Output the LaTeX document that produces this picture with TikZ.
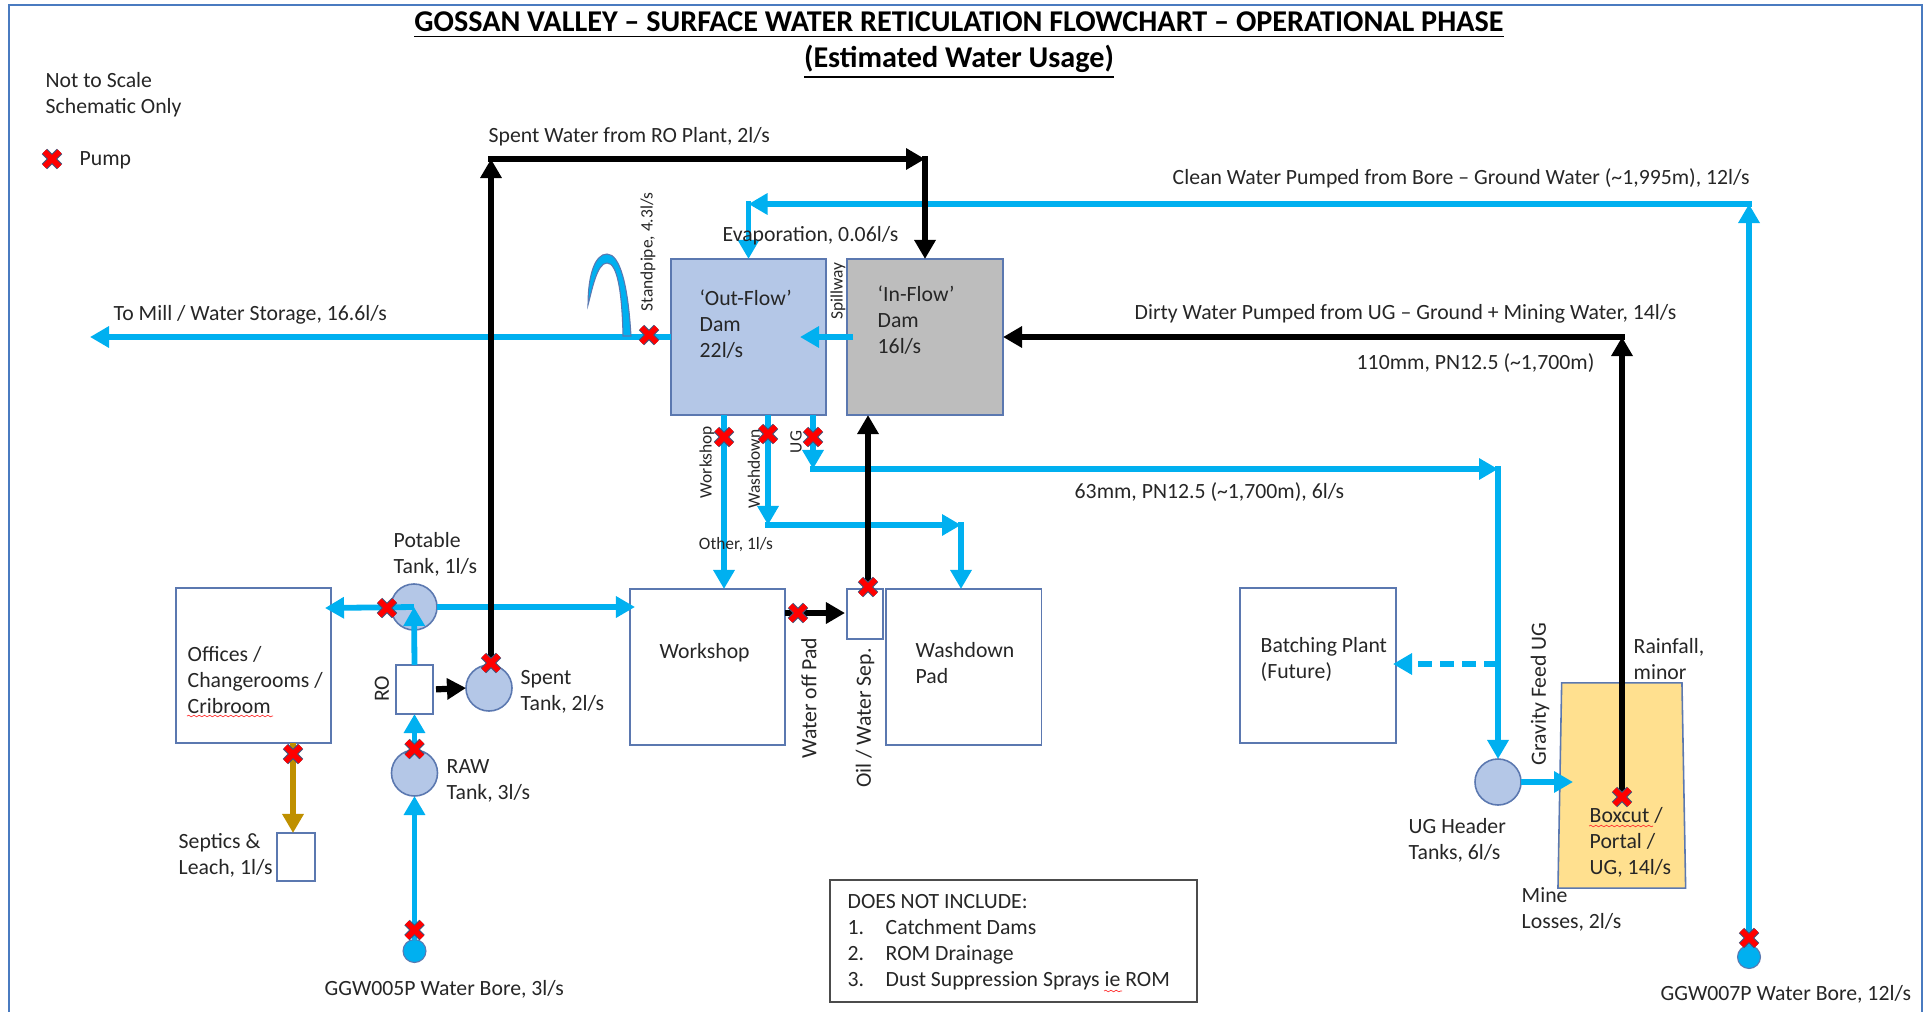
\documentclass[tikz,border=0pt]{standalone}
\usepackage{fontspec}
\setmainfont{Carlito}
\usepackage{xcolor}
\usetikzlibrary{positioning,arrows.meta,calc,shapes.misc,shapes.geometric,decorations.pathmorphing}
\definecolor{waterblue}{HTML}{00B0F0}
\definecolor{edgeblue}{HTML}{5B78B0}
\definecolor{tankblue}{HTML}{B4C7E7}
\definecolor{damgrey}{HTML}{BDBDBD}
\definecolor{septicgold}{HTML}{BF9000}
\definecolor{cutyellow}{HTML}{FFE08F}
\definecolor{framecol}{HTML}{4A7BC0}
\definecolor{inktext}{HTML}{262626}
\pgfdeclarelayer{pumptop}
\pgfsetlayers{main,pumptop}
\newcommand{\numitem}[1]{\makebox[0.38cm][l]{#1}}

\begin{document}
\begin{tikzpicture}[
  x=0.01cm, y=-0.01cm,
  txt/.style={anchor=west, align=left, inner sep=0pt, yshift=-0.015cm, text=inktext, font=\fontsize{6.18}{7.4}\selectfont},
  small/.style={inner sep=0pt, text=inktext, font=\fontsize{4.95}{6}\selectfont},
  vert/.style={rotate=90, inner sep=0pt, text=inktext, font=\fontsize{6.18}{7.4}\selectfont},
  pbox/.style={draw=edgeblue, line width=0.45pt, inner sep=0pt, outer sep=0pt},
  tank/.style={circle, draw=edgeblue, fill=tankblue, line width=0.45pt, minimum size=0.46cm, inner sep=0pt, outer sep=0pt},
  bore/.style={circle, draw=edgeblue, fill=waterblue, line width=0.3pt, minimum size=0.23cm, inner sep=0pt, outer sep=0pt},
  pump/.style={cross out, draw=edgeblue!70!black, double=red, double distance=1.55pt, line width=0.3pt, minimum size=0.15cm, inner sep=0pt, outer sep=0pt},
  water/.style={-{Triangle[length=1.9mm, width=2.05mm]}, line width=0.58mm, draw=waterblue},
  waste/.style={-{Triangle[length=1.9mm, width=2.05mm]}, line width=0.62mm, draw=black},
  squig/.style={draw=red!80, line width=0.2pt, decorate, decoration={snake, amplitude=0.22pt, segment length=1.5pt}}]
\useasboundingbox (0,0) rectangle (1924,1012);
\draw[framecol, line width=0.5pt] (9,1012) -- (9,5) -- (1922,5) -- (1922,1012);

\begin{pgfonlayer}{pumptop}
\node[pump] (pumpkey) at (52,159) {};
\node[pump] (pumpmill) at (649,335) {};
\node[pump] (pumpworkshop) at (724,437) {};
\node[pump] (pumpwash) at (768,434) {};
\node[pump] (pumpug) at (813,437) {};
\node[pump] (pumpoil) at (868,587) {};
\node[pump] (pumpwater) at (798,613) {};
\node[pump] (pumppotable) at (387,608) {};
\node[pump] (pumpspent) at (491,663) {};
\node[pump] (pumpraw) at (414.5,749) {};
\node[pump] (pumpbore) at (414.5,930) {};
\node[pump] (pumpseptic) at (293,754) {};
\node[pump] (pumpcut) at (1622,797) {};
\node[pump] (pumpfar) at (1749,938) {};
\end{pgfonlayer}

\node[pbox, fill=tankblue, minimum width=1.55cm, minimum height=1.56cm] (outdam) at (748.5,337) {};
\node[pbox, fill=damgrey, minimum width=1.56cm, minimum height=1.56cm] (indam) at (925,337) {};
\node[pbox, minimum width=1.55cm, minimum height=1.55cm] (offices) at (253.5,665.5) {};
\node[pbox, minimum width=0.38cm, minimum height=0.48cm] (septic) at (296,857) {};
\node[pbox, minimum width=0.37cm, minimum height=0.49cm] (ro) at (414.5,689.5) {};
\node[pbox, minimum width=1.55cm, minimum height=1.56cm] (workshop) at (707.5,667) {};
\node[pbox, minimum width=0.36cm, minimum height=0.50cm] (oilsep) at (865,614) {};
\node[pbox, minimum width=1.555cm, minimum height=1.56cm] (washpad) at (963.75,667) {};
\node[pbox, minimum width=1.56cm, minimum height=1.55cm] (batching) at (1318,665.5) {};
\node[pbox, trapezium, fill=cutyellow, trapezium stretches body=true, trapezium left angle=81.2, trapezium right angle=81.2, minimum width=1.276cm, minimum height=2.05cm, inner sep=1pt] (boxcut) at (1621.8,785.5) {\phantom{x}};
\node[draw=black!70, line width=0.6pt, inner sep=0pt, minimum width=3.67cm, minimum height=1.22cm] (notebox) at (1013.5,941) {};
\node[tank] (potable) at (414,607) {};
\node[tank] (spent) at (489,688) {};
\node[tank] (raw) at (414.5,773) {};
\node[tank] (header) at (1498,782) {};
\node[bore] (bore005) at (414.5,951) {};
\node[bore] (bore007) at (1749,957) {};

\coordinate (milltip) at (90,337);
\coordinate (spentturn) at (491,159);
\coordinate (spentend) at (925,159);
\coordinate (cleanturn) at (1749,204);
\coordinate (cleanend) at (748.5,204);
\coordinate (spillfrom) at (853,337);
\coordinate (spilltip) at (800,337);
\coordinate (dirtyturn) at (1622,337);
\coordinate (ugturn) at (813,469);
\coordinate (ugend) at (1498,469);
\coordinate (washturn) at (768,525);
\coordinate (washend) at (961,525);
\coordinate (officesin) at (325,608);
\coordinate (workshopin) at (635,607);
\coordinate (batchtap) at (1498,664);
\coordinate (batchtip) at (1393,664);
\coordinate (cuttip) at (1573,782);

\draw[water] (outdam.west) -- (milltip);
\draw[water] (bore007) -- (cleanturn);
\draw[water, line cap=rect] (cleanturn) -- (cleanend);
\draw[water, line cap=rect] (cleanend) -- (outdam.north);
\draw[water] (spillfrom) -- (spilltip);
\draw[water] (outdam.south -| pumpworkshop) -- (pumpworkshop |- workshop.north);
\draw[water] (outdam.south -| pumpwash) -- (washturn);
\draw[water, line cap=rect] (washturn) -- (washend);
\draw[water, line cap=rect] (washend) -- (washend |- washpad.north);
\draw[water] (outdam.south -| pumpug) -- (ugturn);
\draw[water, line cap=rect] (ugturn) -- (ugend);
\draw[water, line cap=rect] (ugend) -- (header.north);
\draw[water, dashed, dash pattern=on 0.14cm off 0.08cm] (batchtap) -- (batchtip);
\draw[water] (header.east) -- (cuttip);
\draw[water] (potable.center) -- (officesin);
\draw[water] (potable.east) -- (workshopin);
\draw[water] (ro.north) -- (potable.center);
\draw[water] (raw.north) -- (ro.south);
\draw[water] (bore005) -- (raw.south);
\draw[-{Triangle[length=1.9mm, width=2.05mm]}, line width=0.62mm, draw=septicgold] (offices.south -| pumpseptic) -- (pumpseptic |- septic.north);
\draw[waste] (pumpspent.center) -- (spentturn);
\draw[waste, line cap=rect] (spentturn) -- (spentend);
\draw[waste, line cap=rect] (spentend) -- (indam.north);
\draw[waste] (pumpcut.center) -- (dirtyturn);
\draw[waste, line cap=rect] (dirtyturn) -- (indam.east);
\draw[waste] (pumpoil.center) -- (pumpoil |- indam.south);
\draw[waste, shorten >=0.02cm] (workshop.east |- pumpwater) -- (oilsep.west |- pumpwater);
\draw[waste, shorten <=0.03cm] (ro.east) -- (spent.west);
\draw[draw=edgeblue, line width=0.3pt, fill=waterblue] (631,336) .. controls (628,285) and (620,254) .. (607,254) .. controls (595,254) and (588,275) .. (588,305) .. controls (592,290) and (597,263) .. (607,263) .. controls (617,263) and (622,290) .. (623,336) -- cycle;

\node[inner sep=0pt, text=black, font=\fontsize{8.58}{10}\selectfont\bfseries] (title1) at (959,25) {\underline{GOSSAN VALLEY – SURFACE WATER RETICULATION FLOWCHART – OPERATIONAL PHASE}};
\node[inner sep=0pt, text=black, font=\fontsize{8.58}{10}\selectfont\bfseries] (title2) at (959,62) {\underline{(Estimated Water Usage)}};
\node[txt] (scale) at (45,93.5) {Not to Scale\\Schematic Only};
\node[txt] (keytext) at (79,159) {Pump};
\node[txt] (spenttext) at (488,135) {Spent Water from RO Plant, 2l/s};
\node[txt] (cleantext) at (1172,177) {Clean Water Pumped from Bore – Ground Water (\textasciitilde1,995m), 12l/s};
\node[txt] (dirtytext) at (1134,312) {Dirty Water Pumped from UG – Ground + Mining Water, 14l/s};
\node[txt] (pipetext) at (1356,362) {110mm, PN12.5 (\textasciitilde1,700m)};
\node[txt] (feedtext) at (1074,491) {63mm, PN12.5 (\textasciitilde1,700m), 6l/s};
\node[txt] (milltext) at (113,313) {To Mill / Water Storage, 16.6l/s};
\node[txt] (evaptext) at (722,234) {Evaporation, 0.06l/s};
\node[txt] (outtext) at (699,322.5) {‘Out-Flow’\\Dam\\22l/s};
\node[txt] (intext) at (877,319) {‘In-Flow’\\Dam\\16l/s};
\node[txt] (officetext) at (187,678.5) {Offices /\\Changerooms /\\Cribroom};
\node[txt] (septictext) at (178,854) {Septics \&\\Leach, 1l/s};
\node[txt] (potabletext) at (393,553) {Potable\\Tank, 1l/s};
\node[txt] (spenttank) at (520,690) {Spent\\Tank, 2l/s};
\node[txt] (rawtext) at (446,779) {RAW\\Tank, 3l/s};
\node[txt] (bore5text) at (324,988) {GGW005P Water Bore, 3l/s};
\node[txt] (worktext) at (659,651) {Workshop};
\node[txt] (padtext) at (915,662) {Washdown\\Pad};
\node[txt] (batchtext) at (1260,657.5) {Batching Plant\\(Future)};
\node[txt] (headertext) at (1408,839) {UG Header\\Tanks, 6l/s};
\node[txt] (rainfall) at (1633,657.5) {Rainfall,\\minor};
\node[txt] (cuttext) at (1589,840.5) {Boxcut /\\Portal /\\UG, 14l/s};
\node[txt] (losstext) at (1521,908) {Mine\\Losses, 2l/s};
\node[txt] (bore7text) at (1660,993) {GGW007P Water Bore, 12l/s};
\node[txt] (notetext) at (847,941) {DOES NOT INCLUDE:\\\numitem{1.}Catchment Dams\\\numitem{2.}ROM Drainage\\\numitem{3.}Dust Suppression Sprays ie ROM};
\node[small] (othertext) at (736,545) {Other, 1l/s};
\node[small, rotate=90] (standtext) at (648,252) {Standpipe, 4.3l/s};
\node[small, rotate=90] (spilltext) at (838,291) {Spillway};
\node[small, rotate=90] (worklabel) at (707,462) {Workshop};
\node[small, rotate=90] (washlabel) at (754,469) {Washdown};
\node[small, rotate=90] (uglabel) at (796,442) {UG};
\node[vert] (rolabel) at (382,689) {RO};
\node[vert] (padlabel) at (809,698) {Water off Pad};
\node[vert] (oillabel) at (865,718) {Oil / Water Sep.};
\node[vert] (gravlabel) at (1540,694) {Gravity Feed UG};
\draw[squig] (187,716) -- (273,716);
\draw[squig] (1589,826) -- (1653,826);
\draw[squig] (1104,991) -- (1122,991);
\end{tikzpicture}
\end{document}
